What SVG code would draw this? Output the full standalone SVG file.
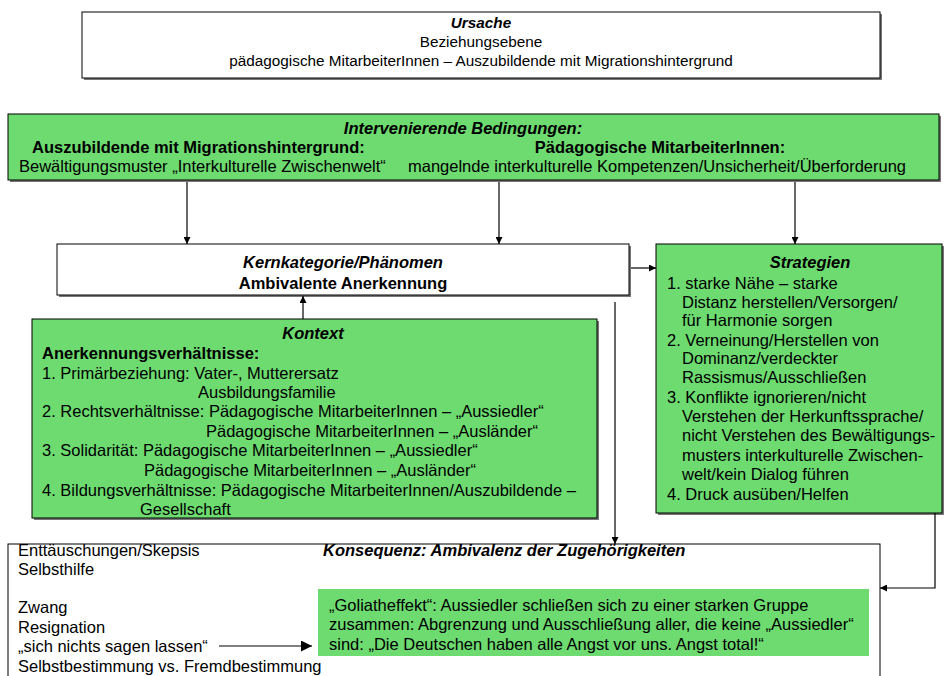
<svg xmlns="http://www.w3.org/2000/svg" width="950" height="676" viewBox="0 0 950 676">
<style>
text{font-family:"Liberation Sans",Arial,sans-serif;font-size:16.5px;fill:#000}
.c{text-anchor:middle}
.b{font-weight:bold}
.bi{font-weight:bold;font-style:italic}
.u{font-size:15.3px}
.box{stroke:#000;stroke-width:1}
.w{fill:#fff}
.g{fill:#6DDB70}
.sh{fill:#777}
.ln{stroke:#000;stroke-width:1.2;fill:none}
</style>
<defs>
<marker id="ah" viewBox="0 0 10 10" refX="10" refY="5" markerWidth="7" markerHeight="7" orient="auto" markerUnits="userSpaceOnUse">
<path d="M0,0 L10,5 L0,10 z" fill="#000"/>
</marker>
<marker id="ahs" viewBox="0 0 10 10" refX="10" refY="5" markerWidth="11" markerHeight="11" orient="auto" markerUnits="userSpaceOnUse">
<path d="M0,0 L10,5 L0,10 z" fill="#000"/>
</marker>
</defs>
<rect width="950" height="676" fill="#fff"/>

<g id="ursache">
<rect class="sh" x="84" y="14" width="798" height="66"/>
<rect class="box w" x="82" y="12" width="798" height="66"/>
<text class="c bi u" x="481" y="28">Ursache</text>
<text class="c u" x="481" y="47">Beziehungsebene</text>
<text class="c u" x="481" y="66">pädagogische MitarbeiterInnen – Auszubildende mit Migrationshintergrund</text>
</g>

<g id="intervenierende">
<rect class="sh" x="10" y="116" width="931" height="66"/>
<rect class="box g" x="8" y="114" width="931" height="66"/>
<text class="c bi" x="463" y="134">Intervenierende Bedingungen:</text>
<text class="b" x="32" y="153">Auszubildende mit Migrationshintergrund:</text>
<text class="c b" x="660" y="153">Pädagogische MitarbeiterInnen:</text>
<text x="19" y="172">Bewältigungsmuster „Interkulturelle Zwischenwelt“</text>
<text x="408" y="172">mangelnde interkulturelle Kompetenzen/Unsicherheit/Überforderung</text>
</g>

<g id="kern">
<rect class="sh" x="59" y="246" width="572" height="51"/>
<rect class="box w" x="57" y="244" width="572" height="51"/>
<text class="c bi" x="343" y="268">Kernkategorie/Phänomen</text>
<text class="c b" x="343" y="289">Ambivalente Anerkennung</text>
</g>

<g id="strategien">
<rect class="sh" x="658" y="246" width="286" height="269"/>
<rect class="box g" x="656" y="244" width="286" height="269"/>
<text class="c bi" x="810" y="268">Strategien</text>
<text x="667" y="289">1. starke Nähe – starke</text>
<text x="682" y="308">Distanz herstellen/Versorgen/</text>
<text x="682" y="326">für Harmonie sorgen</text>
<text x="667" y="346">2. Verneinung/Herstellen von</text>
<text x="682" y="364">Dominanz/verdeckter</text>
<text x="682" y="383">Rassismus/Ausschließen</text>
<text x="667" y="403">3. Konflikte ignorieren/nicht</text>
<text x="682" y="422">Verstehen der Herkunftssprache/</text>
<text x="682" y="441">nicht Verstehen des Bewältigungs-</text>
<text x="682" y="461">musters interkulturelle Zwischen-</text>
<text x="682" y="480">welt/kein Dialog führen</text>
<text x="667" y="500">4. Druck ausüben/Helfen</text>
</g>

<g id="kontext">
<rect class="sh" x="34" y="321" width="565" height="199"/>
<rect class="box g" x="32" y="319" width="565" height="199"/>
<text class="c bi" x="313" y="339">Kontext</text>
<text class="b" x="42" y="359">Anerkennungsverhältnisse:</text>
<text x="42" y="379">1. Primärbeziehung: Vater-, Mutterersatz</text>
<text x="198" y="398">Ausbildungsfamilie</text>
<text x="42" y="417">2. Rechtsverhältnisse: Pädagogische MitarbeiterInnen – „Aussiedler“</text>
<text x="206" y="437">Pädagogische MitarbeiterInnen – „Ausländer“</text>
<text x="42" y="456">3. Solidarität: Pädagogische MitarbeiterInnen – „Aussiedler“</text>
<text x="144" y="476">Pädagogische MitarbeiterInnen – „Ausländer“</text>
<text x="42" y="496">4. Bildungsverhältnisse: Pädagogische MitarbeiterInnen/Auszubildende –</text>
<text x="140" y="515">Gesellschaft</text>
</g>

<g id="konsequenz">
<rect class="box w" x="8" y="544" width="872" height="150"/>
<text class="bi" x="323" y="556">Konsequenz: Ambivalenz der Zugehörigkeiten</text>
<text x="18" y="556">Enttäuschungen/Skepsis</text>
<text x="18" y="575">Selbsthilfe</text>
<text x="18" y="613">Zwang</text>
<text x="18" y="633">Resignation</text>
<text x="18" y="652">„sich nichts sagen lassen“</text>
<text x="18" y="672">Selbstbestimmung vs. Fremdbestimmung</text>
</g>

<g id="goliath">
<rect class="g" x="318" y="589" width="551" height="67"/>
<text x="329" y="611">„Goliatheffekt“: Aussiedler schließen sich zu einer starken Gruppe</text>
<text x="329" y="630">zusammen: Abgrenzung und Ausschließung aller, die keine „Aussiedler“</text>
<text x="329" y="650">sind: „Die Deutschen haben alle Angst vor uns. Angst total!“</text>
</g>

<g id="connectors">
<line class="ln" x1="187" y1="182" x2="187" y2="244" marker-end="url(#ah)"/>
<line class="ln" x1="499" y1="182" x2="499" y2="244" marker-end="url(#ah)"/>
<line class="ln" x1="795" y1="182" x2="795" y2="244" marker-end="url(#ah)"/>
<line class="ln" x1="631" y1="268" x2="656" y2="268" marker-end="url(#ah)"/>
<line class="ln" x1="303" y1="319" x2="303" y2="296" marker-end="url(#ah)"/>
<line class="ln" x1="615" y1="302" x2="615" y2="544" marker-end="url(#ah)"/>
<polyline class="ln" points="935,513 935,588 880,588" marker-end="url(#ah)"/>
<line class="ln" x1="219" y1="646" x2="312" y2="646" marker-end="url(#ahs)"/>
</g>
</svg>
